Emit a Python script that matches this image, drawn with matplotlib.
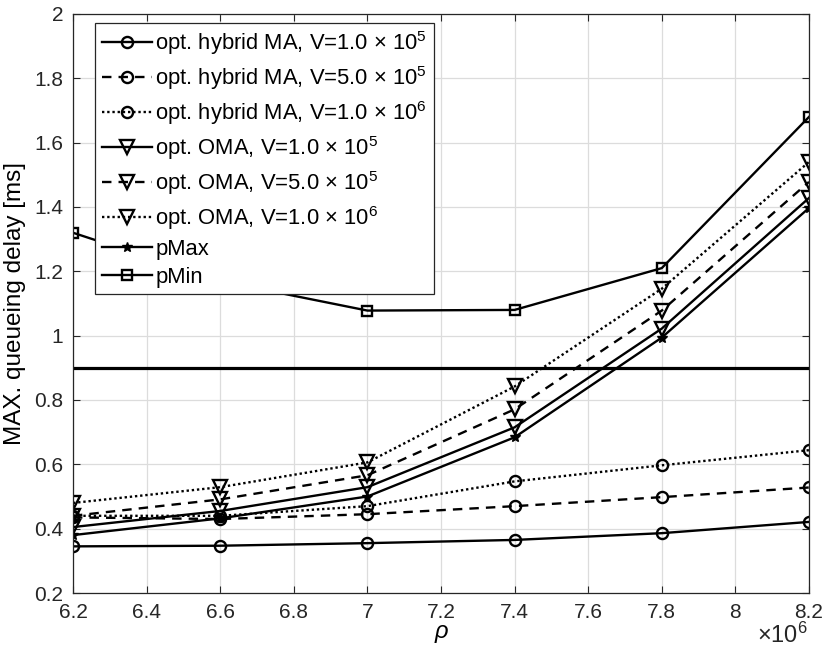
import numpy as np
import matplotlib
matplotlib.use("Agg")
import matplotlib.pyplot as plt
from matplotlib.ticker import FuncFormatter, MultipleLocator

plt.rcParams.update({
    "font.family": ["Liberation Sans", "DejaVu Sans"],
    "mathtext.default": "regular",
    "font.size": 14,
})

# ── Data ─────────────────────────────────────────────────────────────────────
rho = np.array([6.2, 6.6, 7.0, 7.4, 7.8, 8.2]) * 1e6

hyb_v1e5 = [0.345, 0.347, 0.355, 0.365, 0.386, 0.421]
hyb_v5e5 = [0.435, 0.430, 0.445, 0.470, 0.498, 0.528]
hyb_v1e6 = [0.440, 0.440, 0.470, 0.547, 0.597, 0.644]
oma_v1e5 = [0.405, 0.455, 0.529, 0.715, 1.022, 1.428]
oma_v5e5 = [0.440, 0.491, 0.566, 0.771, 1.078, 1.478]
oma_v1e6 = [0.480, 0.529, 0.606, 0.842, 1.146, 1.540]
p_max = [0.380, 0.432, 0.500, 0.684, 0.994, 1.397]
p_min = [1.320, 1.170, 1.078, 1.080, 1.210, 1.680]

delay_bound = 0.9

labels = [
    r"opt. hybrid MA, V=1.0 $\times$ 10$^5$",
    r"opt. hybrid MA, V=5.0 $\times$ 10$^5$",
    r"opt. hybrid MA, V=1.0 $\times$ 10$^6$",
    r"opt. OMA, V=1.0 $\times$ 10$^5$",
    r"opt. OMA, V=5.0 $\times$ 10$^5$",
    r"opt. OMA, V=1.0 $\times$ 10$^6$",
    "pMax",
    "pMin",
]

# ── Plot ─────────────────────────────────────────────────────────────────────
fig = plt.figure(figsize=(8.31, 6.66), dpi=100)
ax = fig.add_axes([0.0878, 0.1096, 0.8857, 0.8694])

dotted = (0, (1, 1.2))
dashed = (0, (4, 3))
lw = 1.7
circ = dict(marker="o", markersize=8, markerfacecolor="none",
            markeredgewidth=1.7, color="black", linewidth=lw)
tri = dict(marker="v", markersize=10, markerfacecolor="none",
           markeredgewidth=1.7, color="black", linewidth=lw)

ax.plot(rho, hyb_v1e5, linestyle="-", label=labels[0], **circ)
ax.plot(rho, hyb_v5e5, linestyle=dashed, label=labels[1], **circ)
ax.plot(rho, hyb_v1e6, linestyle=dotted, label=labels[2], **circ)
ax.plot(rho, oma_v1e5, linestyle="-", label=labels[3], **tri)
ax.plot(rho, oma_v5e5, linestyle=dashed, label=labels[4], **tri)
ax.plot(rho, oma_v1e6, linestyle=dotted, label=labels[5], **tri)
ax.plot(rho, p_max, linestyle="-", marker="*", markersize=7, color="black",
        linewidth=lw, label=labels[6])
ax.plot(rho, p_min, linestyle="-", marker="s", markersize=7,
        markerfacecolor="none", markeredgewidth=1.7, color="black",
        linewidth=lw, label=labels[7])
ax.axhline(delay_bound, color="black", linewidth=2.3)

ax.set_xlim(6.2e6, 8.2e6)
ax.set_ylim(0.2, 2.0)
ax.xaxis.set_major_locator(MultipleLocator(0.2e6))
ax.yaxis.set_major_locator(MultipleLocator(0.2))
ax.xaxis.set_major_formatter(FuncFormatter(lambda v, _: f"{v / 1e6:g}"))
ax.yaxis.set_major_formatter(FuncFormatter(lambda v, _: f"{v:g}"))
ax.text(0.998, -0.052, r"$\times 10^6$", transform=ax.transAxes,
        ha="right", va="top", fontsize=17, color="#262626")

ax.grid(True, color="#dcdcdc", linewidth=0.9)
ax.set_axisbelow(True)
ax.tick_params(direction="in", length=5, labelsize=15, colors="#262626",
               top=True, right=True, pad=7)
for s in ax.spines.values():
    s.set_linewidth(0.9)
    s.set_color("#262626")

ax.set_xlabel("ρ", fontsize=17, style="italic", labelpad=-1)
ax.set_ylabel("MAX. queueing delay [ms]", fontsize=17.5, labelpad=6)

leg = ax.legend(loc="upper left", bbox_to_anchor=(0.03, 0.985),
                fontsize=15.8, handlelength=2.3, handletextpad=0.15,
                labelspacing=0.32, borderpad=0.3, borderaxespad=0.0,
                fancybox=False, framealpha=1.0, edgecolor="#262626")
leg.get_frame().set_linewidth(0.9)

fig.savefig("out.png", dpi=100, facecolor="white")
